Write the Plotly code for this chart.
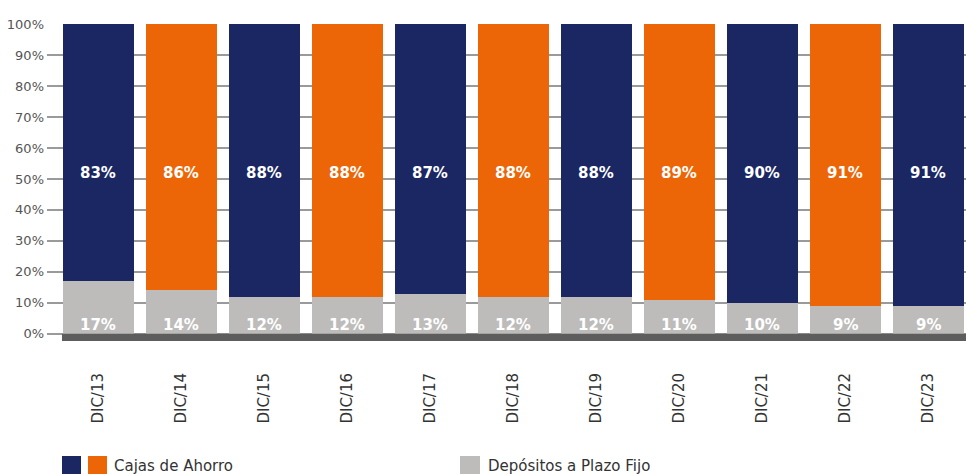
import plotly.graph_objects as go

categories = ["DIC/13", "DIC/14", "DIC/15", "DIC/16", "DIC/17", "DIC/18",
              "DIC/19", "DIC/20", "DIC/21", "DIC/22", "DIC/23"]
cajas_ahorro = [83, 86, 88, 88, 87, 88, 88, 89, 90, 91, 91]
plazo_fijo = [17, 14, 12, 12, 13, 12, 12, 11, 10, 9, 9]
y_ticks = [0, 10, 20, 30, 40, 50, 60, 70, 80, 90, 100]

NAVY = "#1b2763"
ORANGE = "#ec6608"
GRAY = "#bdbcbb"
BASE = "#5d5d5d"

x = list(range(len(categories)))
top_colors = [NAVY if i % 2 == 0 else ORANGE for i in x]

fig = go.Figure()
fig.add_trace(go.Bar(x=x, y=plazo_fijo, marker=dict(color=GRAY, line=dict(width=0)),
                     width=0.855, name="Depósitos a Plazo Fijo", showlegend=False,
                     hoverinfo="skip"))
fig.add_trace(go.Bar(x=x, y=cajas_ahorro, marker=dict(color=top_colors, line=dict(width=0)),
                     width=0.855, name="Cajas de Ahorro", showlegend=False,
                     hoverinfo="skip"))

LABEL_FONT = dict(family="DejaVu Sans", size=15, color="white", weight="bold")
for i, (c, p) in enumerate(zip(cajas_ahorro, plazo_fijo)):
    fig.add_annotation(x=i, y=52, text=f"{c}%", showarrow=False, font=LABEL_FONT,
                       xref="x", yref="y")
    fig.add_annotation(x=i, y=3, text=f"{p}%", showarrow=False, font=LABEL_FONT,
                       xref="x", yref="y")

# baseline bar
fig.add_shape(type="rect", xref="paper", yref="y", x0=0.0163, x1=1.0, y0=-2.3, y1=0,
              fillcolor=BASE, line=dict(width=0), layer="above")

# custom legend
def px_x(p):
    return (p - 47) / 919.0

def px_y(p):
    return (341 - p) / 317.0

for (a, b, col) in [(62, 81, NAVY), (88, 107, ORANGE), (460, 480, GRAY)]:
    fig.add_shape(type="rect", xref="paper", yref="paper", x0=px_x(a), x1=px_x(b),
                  y0=px_y(474), y1=px_y(456), fillcolor=col, line=dict(width=0))
LEG_FONT = dict(family="DejaVu Sans", size=15, color="#333333")
fig.add_annotation(xref="paper", yref="paper", x=px_x(112), y=px_y(466), text="Cajas de Ahorro",
                   showarrow=False, xanchor="left", yanchor="middle", font=LEG_FONT)
fig.add_annotation(xref="paper", yref="paper", x=px_x(486), y=px_y(466),
                   text="Depósitos a Plazo Fijo",
                   showarrow=False, xanchor="left", yanchor="middle", font=LEG_FONT)

fig.update_layout(
    barmode="stack",
    width=966, height=474,
    margin=dict(l=47, r=0, t=24, b=133, pad=0),
    plot_bgcolor="white", paper_bgcolor="white",
    showlegend=False,
    xaxis=dict(range=[-0.620, 10.452], tickmode="array", tickvals=x, ticktext=categories,
               tickangle=-90, showgrid=False, zeroline=False, showline=False,
               ticks="", ticklabelstandoff=28,
               tickfont=dict(family="DejaVu Sans", size=15, color="#333333")),
    yaxis=dict(range=[-2.3, 100], tickmode="array", tickvals=y_ticks,
               ticktext=[f"{v}%" for v in y_ticks],
               showgrid=True, gridcolor="#9a9a9a", gridwidth=1.5, zeroline=False,
               showline=False, ticks="", ticklabelstandoff=2,
               tickfont=dict(family="DejaVu Sans", size=13, color="#555555")),
)

fig.write_html("out.html")
